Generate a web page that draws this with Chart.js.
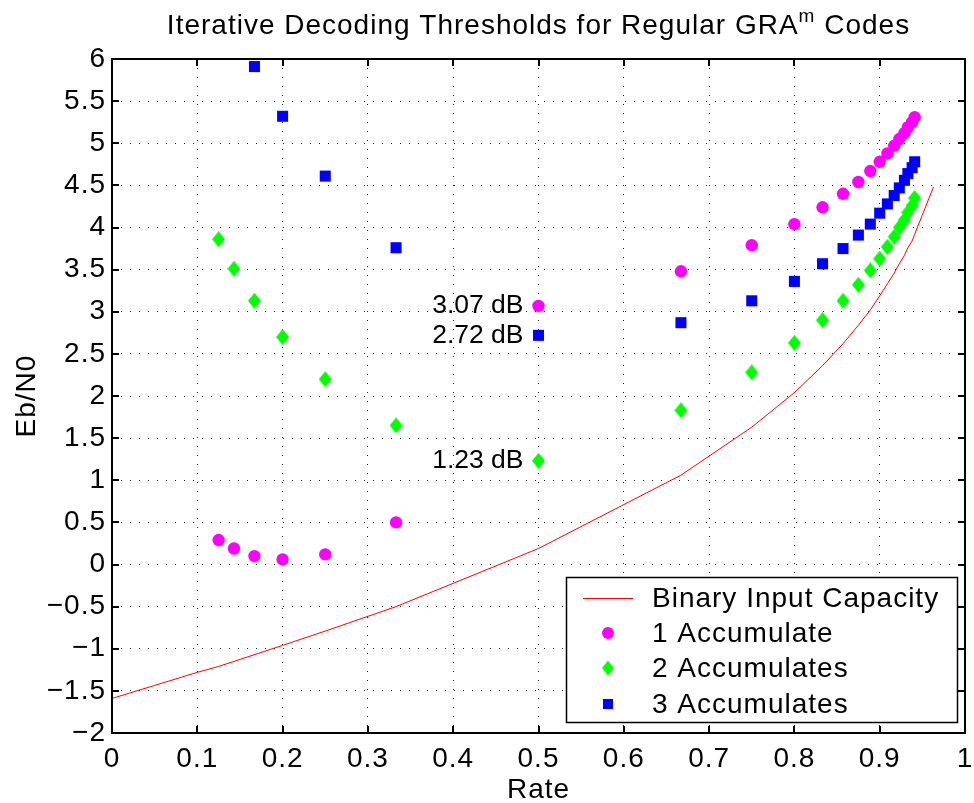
<!DOCTYPE html>
<html>
<head>
<meta charset="utf-8">
<title>GRA thresholds</title>
<script src="https://cdn.jsdelivr.net/npm/chart.js@4.4.0/dist/chart.umd.min.js"></script>
<style>
    html, body { margin: 0; padding: 0; background: #fff; }
    #wrap { width: 974px; height: 803px; }
</style>
</head>
<body>
<div id="wrap"><canvas id="thresholdChart" width="974" height="803"></canvas></div>
<script>
// Code rates (k/(k+1) and 1/n) at which thresholds were computed
const rates = [0.125, 0.143, 0.167, 0.2, 0.25, 0.333, 0.5, 0.667, 0.75, 0.8, 0.833, 0.857,
               0.875, 0.889, 0.9, 0.909, 0.917, 0.923, 0.929, 0.933, 0.938, 0.941];

// Thresholds in dB
const oneAccumulate = [0.29, 0.19, 0.10, 0.06, 0.12, 0.50, 3.07, 3.48, 3.79, 4.04, 4.24, 4.40,
                       4.54, 4.67, 4.78, 4.88, 4.97, 5.05, 5.12, 5.19, 5.25, 5.31];
const twoAccumulates = [3.86, 3.51, 3.13, 2.70, 2.20, 1.65, 1.23, 1.83, 2.28, 2.63, 2.90, 3.13,
                        3.32, 3.49, 3.63, 3.77, 3.89, 4.00, 4.09, 4.18, 4.26, 4.35];
const threeAccumulates = [null, null, 5.91, 5.32, 4.61, 3.76, 2.72, 2.87, 3.13, 3.36, 3.57, 3.75,
                          3.91, 4.04, 4.17, 4.28, 4.38, 4.47, 4.56, 4.64, 4.71, 4.78];

// Binary input AWGN capacity limit
const capacityRates = [0, 0.1, 0.125, 0.2, 0.25, 0.333, 0.5, 0.667, 0.75, 0.8, 0.833, 0.857,
                       0.875, 0.889, 0.9, 0.909, 0.917, 0.923, 0.929, 0.933, 0.938, 0.941, 0.95, 0.963];
const capacityLimit = [-1.59, -1.28, -1.21, -0.96, -0.79, -0.50, 0.19, 1.06, 1.63, 2.04, 2.36, 2.62,
                       2.84, 3.02, 3.19, 3.33, 3.46, 3.57, 3.67, 3.76, 3.84, 3.92, 4.15, 4.48];

// Labelled thresholds at rate 1/2
const noteRate = 0.5;
const noteValues = [3.07, 2.72, 1.23];
const noteLabels = ['3.07 dB', '2.72 dB', '1.23 dB'];

const legendLabels = ['Binary Input Capacity', '1 Accumulate', '2 Accumulates', '3 Accumulates'];

const FONT = '"Liberation Sans", Arial, Helvetica, sans-serif';
const MAGENTA = '#ff00ff';
const GREEN = '#00ff00';
const BLUE = '#0000ff';
const RED = '#ff0000';

function toPoints(xs, ys) {
    const pts = [];
    xs.forEach((x, i) => {
        if (ys[i] !== null) pts.push({ x: x, y: ys[i] });
    });
    return pts;
}

// diamond marker like matlab 'd'
function makeDiamond(w, h, color) {
    const c = document.createElement('canvas');
    c.width = w;
    c.height = h;
    const g = c.getContext('2d');
    g.fillStyle = color;
    g.beginPath();
    g.moveTo(w / 2, 0);
    g.lineTo(w, h / 2);
    g.lineTo(w / 2, h);
    g.lineTo(0, h / 2);
    g.closePath();
    g.fill();
    return c;
}
const diamond = makeDiamond(13, 16, GREEN);

const minus = s => String(s).replace('-', '\u2212');

// matlab's text runs a little wider than Liberation Sans
const spacing = {
    id: 'spacing',
    beforeDraw(chart) {
        chart.ctx.letterSpacing = '1px';
    }
};

// Title with superscript, axis titles, box with inward ticks, notes and legend
const decorations = {
    id: 'decorations',
    afterDraw(chart) {
        const ctx = chart.ctx;
        const area = chart.chartArea;
        const xs = chart.scales.x;
        const ys = chart.scales.y;
        ctx.save();
        ctx.letterSpacing = '1px';

        // box
        ctx.strokeStyle = '#000';
        ctx.lineWidth = 2;
        ctx.strokeRect(area.left, area.top, area.right - area.left, area.bottom - area.top);

        // inward ticks on all four sides
        const tl = 7;
        ctx.beginPath();
        xs.ticks.forEach(t => {
            const px = Math.round(xs.getPixelForValue(t.value));
            ctx.moveTo(px, area.bottom); ctx.lineTo(px, area.bottom - tl);
            ctx.moveTo(px, area.top); ctx.lineTo(px, area.top + tl);
        });
        ys.ticks.forEach(t => {
            const py = Math.round(ys.getPixelForValue(t.value));
            ctx.moveTo(area.left, py); ctx.lineTo(area.left + tl, py);
            ctx.moveTo(area.right, py); ctx.lineTo(area.right - tl, py);
        });
        ctx.stroke();

        ctx.fillStyle = '#000';

        // title
        const cx = (area.left + area.right) / 2;
        const main = 'Iterative Decoding Thresholds for Regular GRA';
        const tail = ' Codes';
        ctx.font = '28px ' + FONT;
        const wMain = ctx.measureText(main).width;
        const wTail = ctx.measureText(tail).width;
        ctx.font = '19px ' + FONT;
        const wSup = ctx.measureText('m').width;
        let tx = cx - (wMain + wSup + wTail) / 2;
        ctx.textAlign = 'left';
        ctx.textBaseline = 'alphabetic';
        ctx.font = '28px ' + FONT;
        ctx.fillText(main, tx, 34);
        tx += wMain;
        ctx.font = '19px ' + FONT;
        ctx.fillText('m', tx, 22);
        tx += wSup;
        ctx.font = '28px ' + FONT;
        ctx.fillText(tail, tx, 34);

        // axis titles
        ctx.font = '28px ' + FONT;
        ctx.textAlign = 'center';
        ctx.fillText('Rate', cx, 798);
        ctx.save();
        ctx.translate(35, (area.top + area.bottom) / 2);
        ctx.rotate(-Math.PI / 2);
        ctx.fillText('Eb/N0', 0, 0);
        ctx.restore();

        // threshold notes at rate 1/2
        ctx.letterSpacing = '0px';
        ctx.font = '26.5px ' + FONT;
        ctx.textAlign = 'right';
        ctx.textBaseline = 'middle';
        noteValues.forEach((v, i) => {
            ctx.fillText(noteLabels[i], xs.getPixelForValue(noteRate) - 15, ys.getPixelForValue(v));
        });

        // legend
        const lx = 566.5, ly = 577.5, lw = 391, lh = 145;
        ctx.fillStyle = '#fff';
        ctx.fillRect(lx, ly, lw, lh);
        ctx.strokeStyle = '#000';
        ctx.lineWidth = 1.5;
        ctx.strokeRect(lx, ly, lw, lh);
        const rowY = [598, 633, 668, 704];
        const mx = 608;
        ctx.strokeStyle = RED;
        ctx.lineWidth = 1;
        ctx.beginPath();
        ctx.moveTo(583, rowY[0] + 0.5);
        ctx.lineTo(633, rowY[0] + 0.5);
        ctx.stroke();
        ctx.fillStyle = MAGENTA;
        ctx.beginPath();
        ctx.arc(mx, rowY[1], 6, 0, Math.PI * 2);
        ctx.fill();
        ctx.drawImage(makeDiamond(12, 15, GREEN), mx - 6, rowY[2] - 7.5);
        ctx.fillStyle = BLUE;
        ctx.fillRect(mx - 5, rowY[3] - 5, 10, 10);
        ctx.fillStyle = '#000';
        ctx.letterSpacing = '1px';
        ctx.font = '28px ' + FONT;
        ctx.textAlign = 'left';
        ctx.textBaseline = 'middle';
        legendLabels.forEach((label, i) => {
            ctx.fillText(label, 652, rowY[i] + 1);
        });

        ctx.restore();
    }
};

Chart.defaults.font.family = FONT;
Chart.defaults.color = '#000';

const gridOpts = {
    color: 'rgba(0,0,0,0.85)',
    lineWidth: 1,
    drawTicks: false
};

function noScalePadding(scale) {
    scale.paddingLeft = 0;
    scale.paddingRight = 0;
    scale.paddingTop = 0;
    scale.paddingBottom = 0;
}

new Chart(document.getElementById('thresholdChart'), {
    type: 'scatter',
    data: {
        datasets: [
            {
                label: legendLabels[0],
                type: 'line',
                data: toPoints(capacityRates, capacityLimit),
                borderColor: RED,
                borderWidth: 1,
                pointRadius: 0,
                fill: false,
                tension: 0
            },
            {
                label: legendLabels[1],
                data: toPoints(rates, oneAccumulate),
                pointStyle: 'circle',
                pointRadius: 6.2,
                backgroundColor: MAGENTA,
                borderWidth: 0
            },
            {
                label: legendLabels[2],
                data: toPoints(rates, twoAccumulates),
                pointStyle: diamond,
                backgroundColor: GREEN,
                borderWidth: 0
            },
            {
                label: legendLabels[3],
                data: toPoints(rates, threeAccumulates),
                pointStyle: 'rect',
                pointRadius: 7.8,
                backgroundColor: BLUE,
                borderWidth: 0
            }
        ]
    },
    options: {
        responsive: false,
        animation: false,
        events: [],
        layout: { padding: { top: 59, right: 9, left: 0, bottom: 0 } },
        plugins: {
            legend: { display: false },
            title: { display: false },
            tooltip: { enabled: false }
        },
        scales: {
            x: {
                type: 'linear',
                min: 0,
                max: 1,
                grid: gridOpts,
                border: { display: false, dash: [1, 8] },
                ticks: {
                    stepSize: 0.1,
                    padding: 9,
                    font: { size: 28 },
                    maxRotation: 0,
                    autoSkip: false,
                    callback: v => String(Number(v.toFixed(1)))
                },
                afterFit: scale => { scale.height = 70; noScalePadding(scale); }
            },
            y: {
                type: 'linear',
                min: -2,
                max: 6,
                grid: gridOpts,
                border: { display: false, dash: [1, 8] },
                ticks: {
                    stepSize: 0.5,
                    padding: 6,
                    font: { size: 28 },
                    autoSkip: false,
                    callback: v => minus(Number(v.toFixed(1)))
                },
                afterFit: scale => { scale.width = 112; noScalePadding(scale); }
            }
        }
    },
    plugins: [spacing, decorations]
});
</script>
</body>
</html>
